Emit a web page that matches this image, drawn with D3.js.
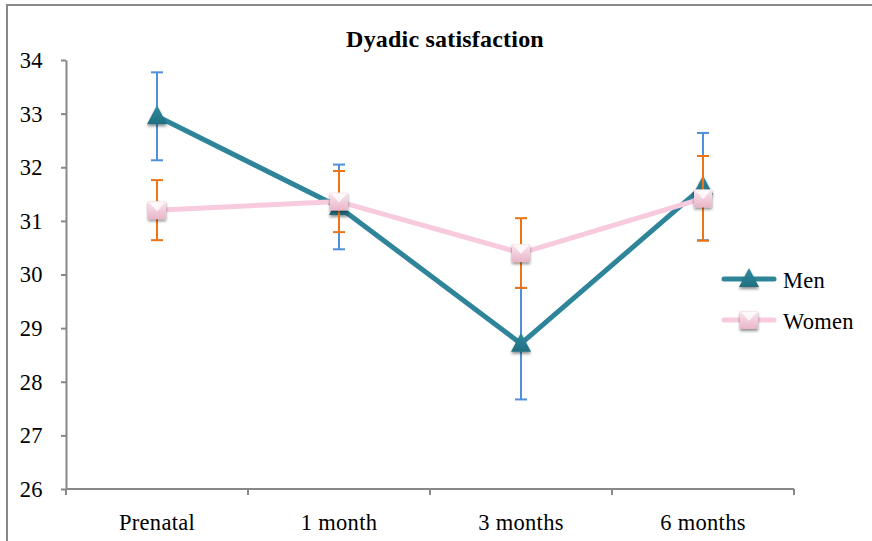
<!DOCTYPE html>
<html>
<head>
<meta charset="utf-8">
<script src="https://cdn.jsdelivr.net/npm/d3@7/dist/d3.min.js"></script>
<style>
  html, body { margin: 0; padding: 0; background: #fff; }
  svg { display: block; }
  text { font-family: "Liberation Serif", "Times New Roman", serif; fill: #000; }
</style>
</head>
<body>
<svg id="chart" width="872" height="541"></svg>
<script>
// Time points of the study
const categories = ["Prenatal", "1 month", "3 months", "6 months"];
// Mean dyadic satisfaction scores and error bar half-widths
const menValues   = [32.95, 31.26, 28.71, 31.64];
const menErrors   = [0.82, 0.79, 1.04, 1.00];
const womenValues = [31.20, 31.36, 30.40, 31.42];
const womenErrors = [0.56, 0.57, 0.65, 0.79];
const yTicks = [26, 27, 28, 29, 30, 31, 32, 33, 34];

const svg = d3.select("#chart");
const W = 872, H = 541;
const plot = { left: 66, right: 794, top: 60, bottom: 489 };

// Outer chart frame
svg.append("rect")
  .attr("x", 7).attr("y", 5).attr("width", W + 20).attr("height", H + 20)
  .attr("fill", "#fff").attr("stroke", "#888").attr("stroke-width", 2);

const x = d3.scaleBand().domain(categories).range([plot.left, plot.right]).padding(0);
const y = d3.scaleLinear().domain([26, 34]).range([plot.bottom, plot.top]);

const defs = svg.append("defs");
const shadow = defs.append("filter").attr("id", "mshadow")
  .attr("x", "-60%").attr("y", "-60%").attr("width", "220%").attr("height", "220%");
shadow.append("feDropShadow").attr("dx", 0).attr("dy", 2).attr("stdDeviation", 1.6)
  .attr("flood-color", "#000").attr("flood-opacity", 0.45);

const pinkGrad = defs.append("linearGradient").attr("id", "pinkGrad")
  .attr("x1", 0).attr("y1", 0).attr("x2", 0).attr("y2", 1);
pinkGrad.append("stop").attr("offset", "0%").attr("stop-color", "#fbe6ef");
pinkGrad.append("stop").attr("offset", "100%").attr("stop-color", "#e9b5c9");

const tealGrad = defs.append("linearGradient").attr("id", "tealGrad")
  .attr("x1", 0).attr("y1", 0).attr("x2", 0).attr("y2", 1);
tealGrad.append("stop").attr("offset", "0%").attr("stop-color", "#2f8a9e");
tealGrad.append("stop").attr("offset", "100%").attr("stop-color", "#216f80");

const fontSize = 22.5;

// Y axis
const yAxis = svg.append("g").attr("transform", `translate(${plot.left},0)`)
  .call(d3.axisLeft(y).tickValues(yTicks).tickSize(5).tickSizeOuter(0).tickPadding(18));
yAxis.attr("font-family", null).attr("font-size", null);
yAxis.select(".domain").attr("stroke", "#888").attr("stroke-width", 2);
yAxis.selectAll(".tick line").attr("stroke", "#888").attr("stroke-width", 2);
yAxis.selectAll(".tick text").attr("font-size", fontSize)
  .attr("fill", "#000").attr("dy", "0.33em").attr("letter-spacing", 0.4);

// X axis with ticks between categories
const xAxisG = svg.append("g").attr("transform", `translate(0,${plot.bottom})`);
xAxisG.append("line").attr("x1", plot.left).attr("x2", plot.right)
  .attr("stroke", "#888").attr("stroke-width", 2);
const boundaries = categories.map(c => x(c)).concat([x(categories[categories.length - 1]) + x.bandwidth()]);
xAxisG.selectAll("line.tk").data(boundaries).enter().append("line").attr("class", "tk")
  .attr("x1", d => d).attr("x2", d => d).attr("y1", 0).attr("y2", 6)
  .attr("stroke", "#888").attr("stroke-width", 2);
xAxisG.selectAll("text").data(categories).enter().append("text")
  .attr("x", d => x(d) + x.bandwidth() / 2).attr("y", 41)
  .attr("text-anchor", "middle").attr("font-size", fontSize).attr("letter-spacing", 0.3)
  .text(d => d);

// Title
svg.append("text").attr("x", 445).attr("y", 47).attr("text-anchor", "middle")
  .attr("font-size", 24).attr("font-weight", "bold").attr("letter-spacing", 0.2)
  .text("Dyadic satisfaction");

const cx = d => x(d) + x.bandwidth() / 2;
const line = d3.line().x(d => cx(d.cat)).y(d => y(d.v));

function drawSeries(values, errors, lineColor, errColor, markerFn) {
  const data = categories.map((c, i) => ({ cat: c, v: values[i], e: errors[i] }));
  const g = svg.append("g");
  g.append("path").datum(data).attr("d", line)
    .attr("fill", "none").attr("stroke", lineColor).attr("stroke-width", 5)
    .attr("stroke-linejoin", "round").attr("stroke-linecap", "round");
  const eb = g.selectAll("g.err").data(data).enter().append("g")
    .attr("stroke", errColor).attr("stroke-width", 2);
  eb.append("line").attr("x1", d => cx(d.cat)).attr("x2", d => cx(d.cat))
    .attr("y1", d => y(d.v + d.e)).attr("y2", d => y(d.v - d.e));
  eb.append("line").attr("x1", d => cx(d.cat) - 6).attr("x2", d => cx(d.cat) + 6)
    .attr("y1", d => y(d.v + d.e)).attr("y2", d => y(d.v + d.e));
  eb.append("line").attr("x1", d => cx(d.cat) - 6).attr("x2", d => cx(d.cat) + 6)
    .attr("y1", d => y(d.v - d.e)).attr("y2", d => y(d.v - d.e));
  data.forEach(d => markerFn(g, cx(d.cat), y(d.v)));
}

function triangle(g, px, py) {
  g.append("path")
    .attr("d", `M${px},${py - 11} L${px + 10},${py + 8} L${px - 10},${py + 8} Z`)
    .attr("fill", "url(#tealGrad)").attr("filter", "url(#mshadow)");
}
function square(g, px, py) {
  const s = 18;
  g.append("rect").attr("x", px - s / 2).attr("y", py - s / 2).attr("width", s).attr("height", s)
    .attr("fill", "url(#pinkGrad)").attr("filter", "url(#mshadow)");
  g.append("path")
    .attr("d", `M${px - s / 2 + 1},${py - s / 2 + 1} L${px + s / 2 - 1},${py - s / 2 + 1} L${px},${py + 1} Z`)
    .attr("fill", "#fff").attr("opacity", 0.8);
}

const menColor = "#2e8599", womenColor = "#f7cade";
drawSeries(menValues, menErrors, menColor, "#4f8fdb", triangle);
drawSeries(womenValues, womenErrors, womenColor, "#ec7414", square);

// Legend
const legend = svg.append("g");
const legendItems = [
  { name: "Men", color: menColor, marker: triangle, y: 279 },
  { name: "Women", color: womenColor, marker: square, y: 320 }
];
legendItems.forEach(it => {
  legend.append("line").attr("x1", 724).attr("x2", 774).attr("y1", it.y).attr("y2", it.y)
    .attr("stroke", it.color).attr("stroke-width", 5).attr("stroke-linecap", "round");
  it.marker(legend, 749, it.y);
  legend.append("text").attr("x", 783).attr("y", it.y + 9).attr("font-size", fontSize)
    .attr("letter-spacing", 0.3).text(it.name);
});
</script>
</body>
</html>
